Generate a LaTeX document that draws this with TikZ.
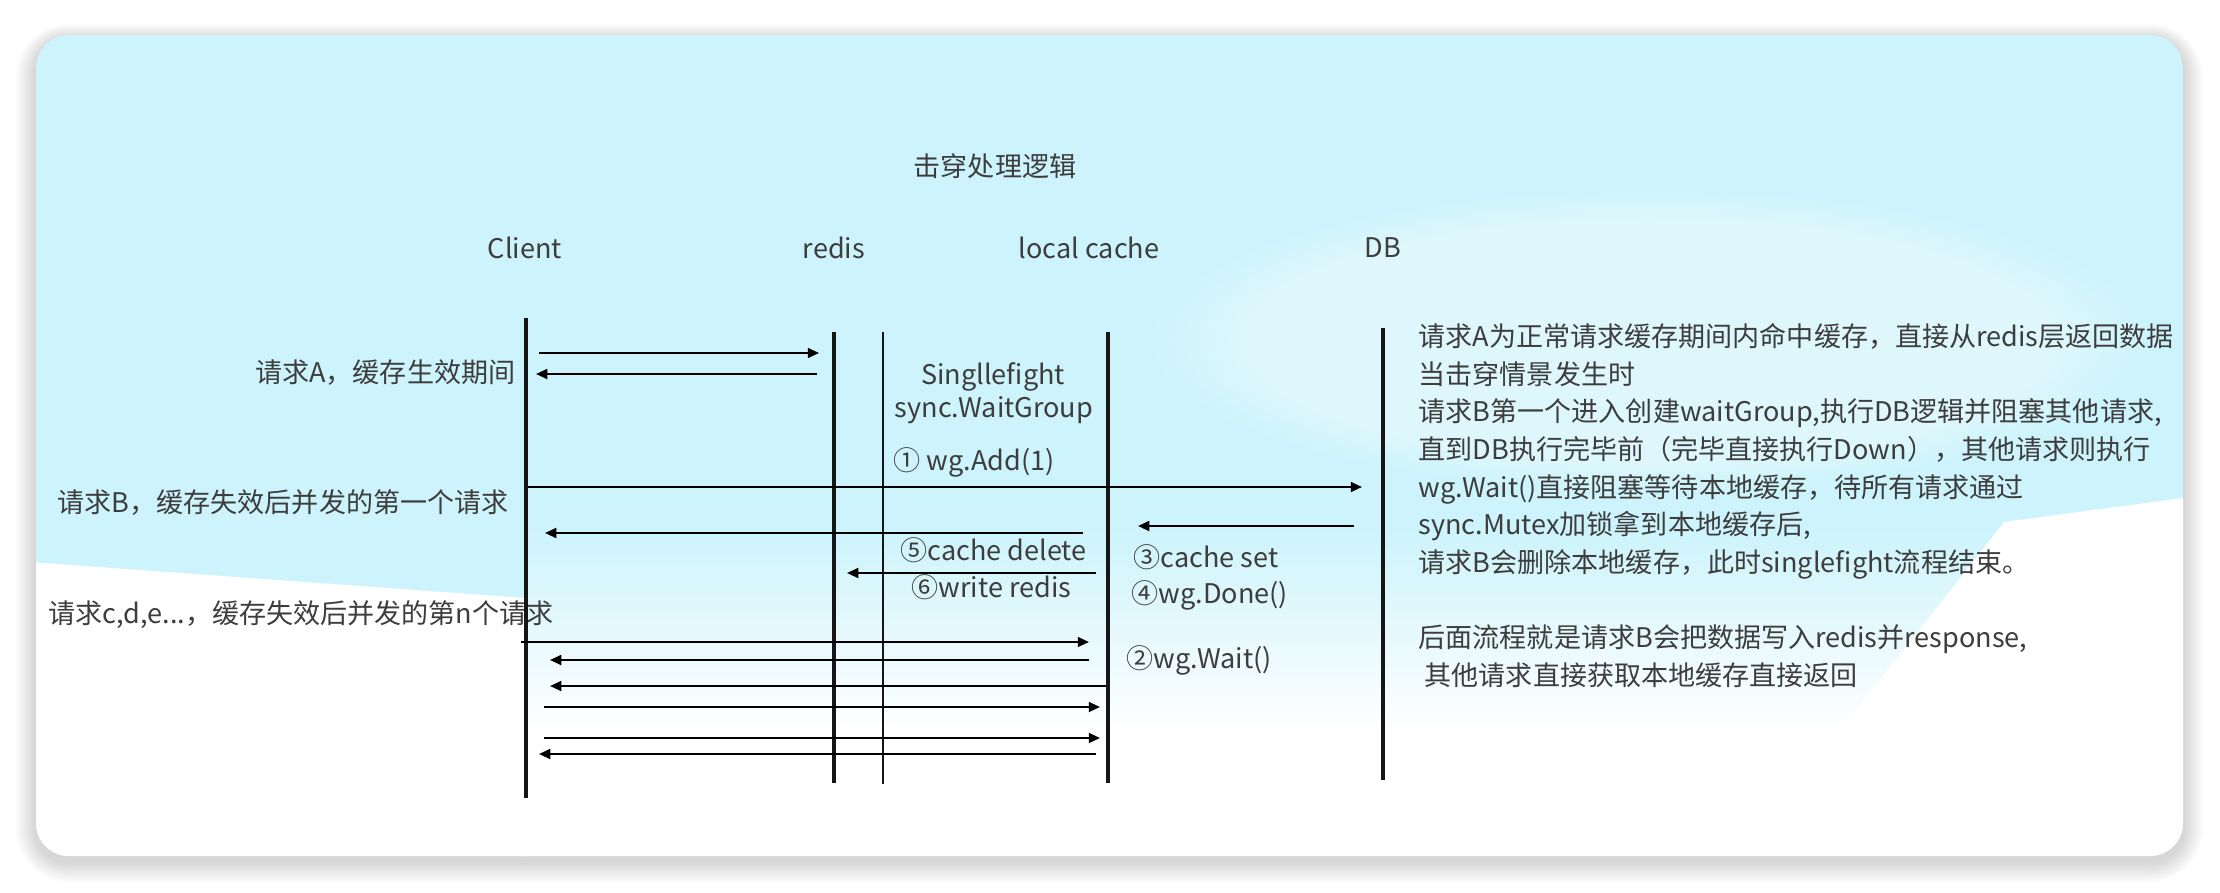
\documentclass[tikz,border=0pt]{standalone}
\usepackage{fontspec}
\setmainfont{Noto Sans CJK SC}
\usepackage{tikz}
\usetikzlibrary{arrows.meta,fadings}
\pgfdeclarelayer{bg}
\pgfsetlayers{bg,main}
\definecolor{wallcyan}{HTML}{CDF4FC}
\definecolor{inkgray}{HTML}{3D3D3D}
\definecolor{lineblack}{HTML}{161616}
\newcommand{\diagfont}{\fontsize{7.7pt}{10.7pt}\selectfont}
\tikzfading[name=fade up, top color=transparent!100, bottom color=transparent!0]
\tikzset{
    every node/.style={inner sep=0mm, text=inkgray, font=\diagfont}
}
\tikzset{lifeline/.style={draw=lineblack, line width=1.15pt}}
\tikzset{guard/.style={draw=lineblack, line width=0.55pt}}
\tikzset{msg/.style={draw=black, line width=0.62pt, -{Triangle[length=3.2pt, width=2.8pt]}}}

\begin{document}
\begin{tikzpicture}
        \useasboundingbox (0cm, 0cm) rectangle (22.200000cm, -8.920000cm);
        % lifeline heads
        \node (title) at (9.950000cm, -1.660000cm) {击穿处理逻辑};
        \node (client) at (5.250000cm, -2.480000cm) {Client};
        \node (redis) at (8.340000cm, -2.480000cm) {redis};
        \node (lcache) at (10.890000cm, -2.480000cm) {local cache};
        \node (db) at (13.830000cm, -2.480000cm) {DB};
        % lifelines
        \coordinate (c0) at (5.260000cm, -3.180000cm);
        \coordinate (c1) at (5.260000cm, -7.980000cm);
        \coordinate (r0) at (8.340000cm, -3.320000cm);
        \coordinate (r1) at (8.340000cm, -7.830000cm);
        \coordinate (s0) at (8.830000cm, -3.320000cm);
        \coordinate (s1) at (8.830000cm, -7.840000cm);
        \coordinate (l0) at (11.080000cm, -3.320000cm);
        \coordinate (l1) at (11.080000cm, -7.830000cm);
        \coordinate (d0) at (13.830000cm, -3.280000cm);
        \coordinate (d1) at (13.830000cm, -7.800000cm);
        % request labels
        \node (reqA) [anchor=east] at (5.160000cm, -3.730000cm) {请求A，缓存生效期间};
        \node (reqB) [anchor=west] at (0.570000cm, -5.030000cm) {请求B，缓存失效后并发的第一个请求};
        \node (reqN) [anchor=west] at (0.480000cm, -6.150000cm) {请求c,d,e...，缓存失效后并发的第n个请求};
        % singleflight steps
        \node (sf) at (9.930000cm, -3.770000cm) {Singllefight};
        \node (wg) at (9.940000cm, -4.100000cm) {sync.WaitGroup};
        \node (st1) [anchor=west] at (8.930000cm, -4.620000cm) {① wg.Add(1)};
        \node (st5) [anchor=west] at (9.000000cm, -5.500000cm) {⑤cache delete};
        \node (st6) [anchor=west] at (9.110000cm, -5.870000cm) {⑥write redis};
        \node (st3) [anchor=west] at (11.330000cm, -5.570000cm) {③cache set};
        \node (st4) [anchor=west] at (11.310000cm, -5.950000cm) {④wg.Done()};
        \node (st2) [anchor=west] at (11.260000cm, -6.600000cm) {②wg.Wait()};
        % notes
        \node (note) [anchor=north west, align=left] at (14.180000cm, -3.230000cm) {请求A为正常请求缓存期间内命中缓存，直接从redis层返回数据\\
当击穿情景发生时\\
请求B第一个进入创建waitGroup,执行DB逻辑并阻塞其他请求,\\
直到DB执行完毕前（完毕直接执行Down），其他请求则执行\\
wg.Wait()直接阻塞等待本地缓存，待所有请求通过\\
sync.Mutex加锁拿到本地缓存后,\\
请求B会删除本地缓存，此时singlefight流程结束。\\[10.7pt]
后面流程就是请求B会把数据写入redis并response,\\
\ 其他请求直接获取本地缓存直接返回};
        % message ends
        \coordinate (m1s) at (5.390000cm, -3.530000cm);
        \coordinate (m1e) at (8.190000cm, -3.530000cm);
        \coordinate (m2s) at (8.170000cm, -3.740000cm);
        \coordinate (m2e) at (5.360000cm, -3.740000cm);
        \coordinate (m3s) at (5.280000cm, -4.870000cm);
        \coordinate (m3e) at (13.620000cm, -4.870000cm);
        \coordinate (m4s) at (10.830000cm, -5.330000cm);
        \coordinate (m4e) at (5.450000cm, -5.330000cm);
        \coordinate (m5s) at (13.540000cm, -5.260000cm);
        \coordinate (m5e) at (11.380000cm, -5.260000cm);
        \coordinate (m6s) at (10.960000cm, -5.730000cm);
        \coordinate (m6e) at (8.470000cm, -5.730000cm);
        \coordinate (m7s) at (5.210000cm, -6.420000cm);
        \coordinate (m7e) at (10.890000cm, -6.420000cm);
        \coordinate (m8s) at (10.890000cm, -6.600000cm);
        \coordinate (m8e) at (5.500000cm, -6.600000cm);
        \coordinate (m9s) at (11.070000cm, -6.860000cm);
        \coordinate (m9e) at (5.500000cm, -6.860000cm);
        \coordinate (m10s) at (5.440000cm, -7.070000cm);
        \coordinate (m10e) at (11.000000cm, -7.070000cm);
        \coordinate (m11s) at (5.440000cm, -7.380000cm);
        \coordinate (m11e) at (11.000000cm, -7.380000cm);
        \coordinate (m12s) at (10.960000cm, -7.540000cm);
        \coordinate (m12e) at (5.390000cm, -7.540000cm);
        \begin{pgfonlayer}{bg}
                \fill[white] (0cm, 0cm) rectangle (22.200000cm, -8.920000cm);
                % soft shadow
                \foreach \k in {1,...,10} {
                        \pgfmathsetmacro{\rr}{0.33+0.02*\k}
                        \fill[black, opacity=0.014, rounded corners=\rr cm]
                                (0.36-0.02*\k, -0.39+0.015*\k) rectangle (21.83+0.02*\k, -8.62-0.02*\k);
                }
                \begin{scope}
                        \clip[rounded corners=0.33cm] (0.36cm, -0.35cm) rectangle (21.83cm, -8.56cm);
                        \fill[wallcyan] (0.36cm, -0.35cm) rectangle (21.83cm, -8.56cm);
                        \fill[white, opacity=0.35, path fading=circle with fuzzy edge 20 percent]
                                (16.5,-3.4) ellipse [x radius=5cm, y radius=1.5cm];
                        \fill[white] (0.3,-5.62) -- (5.25,-5.98) -- (5.25,-8.6) -- (0.3,-8.6) -- cycle;
                        \fill[white, path fading=fade up] (5.25,-5.3) rectangle (21.9,-7.3);
                        \fill[white] (18.4,-7.31) -- (20.04,-5.22) -- (21.9,-4.97) -- (21.9,-7.31) -- cycle;
                        \fill[white] (5.2,-7.3) rectangle (21.9,-8.6);
                \end{scope}
        \end{pgfonlayer}
        \draw (c0) edge [lifeline] (c1);
        \draw (r0) edge [lifeline] (r1);
        \draw (s0) edge [guard] (s1);
        \draw (l0) edge [lifeline] (l1);
        \draw (d0) edge [lifeline] (d1);
        \draw (m1s) edge [msg] (m1e);
        \draw (m2s) edge [msg] (m2e);
        \draw (m3s) edge [msg] (m3e);
        \draw (m4s) edge [msg] (m4e);
        \draw (m5s) edge [msg] (m5e);
        \draw (m6s) edge [msg] (m6e);
        \draw (m7s) edge [msg] (m7e);
        \draw (m8s) edge [msg] (m8e);
        \draw (m9s) edge [msg] (m9e);
        \draw (m10s) edge [msg] (m10e);
        \draw (m11s) edge [msg] (m11e);
        \draw (m12s) edge [msg] (m12e);
\end{tikzpicture}
\end{document}
